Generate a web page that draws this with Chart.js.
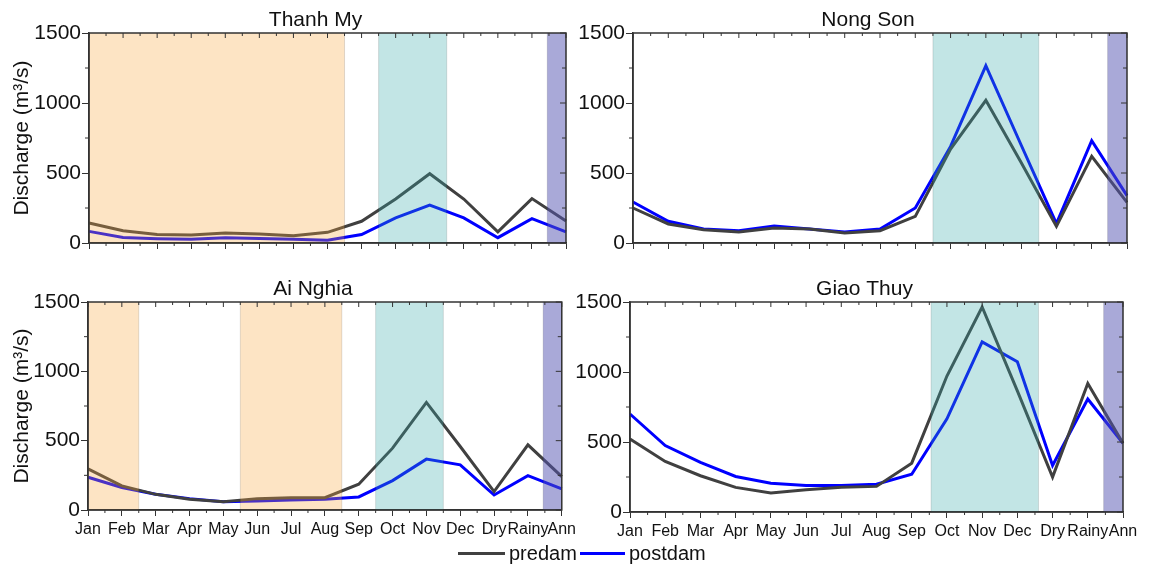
<!DOCTYPE html>
<html>
<head>
<meta charset="utf-8">
<script src="https://cdn.jsdelivr.net/npm/chart.js@4"></script>
<style>
  body { margin: 0; background: #fff; width: 1151px; height: 566px; position: relative; overflow: hidden;
         font-family: "Liberation Sans", Arial, sans-serif; }
  canvas { position: absolute; }
  .lg-line { position: absolute; height: 3px; top: 552px; }
  .lg-text { position: absolute; top: 541px; font-size: 20px; line-height: 24px; color: #111; }
</style>
</head>
<body>
<canvas id="thanhMy" width="580" height="272" style="left:0;top:0"></canvas>
<canvas id="nongSon" width="581" height="272" style="left:570px;top:0"></canvas>
<canvas id="aiNghia" width="580" height="270" style="left:0;top:272px"></canvas>
<canvas id="giaoThuy" width="581" height="270" style="left:570px;top:272px"></canvas>

<div class="lg-line" style="left:458px;width:47px;background:#404040"></div>
<div class="lg-text" style="left:509px">predam</div>
<div class="lg-line" style="left:580px;width:45px;background:#0000ff"></div>
<div class="lg-text" style="left:629px">postdam</div>

<script>
const labels = ["Jan", "Feb", "Mar", "Apr", "May", "Jun", "Jul", "Aug", "Sep", "Oct", "Nov", "Dec", "Dry", "Rainy", "Ann"];
const yTicks = [0, 500, 1000, 1500];
const yMinor = [250, 750, 1250];

// discharge (m3/s)
const thanhMyPre = [143, 88, 60, 57, 71, 64, 52, 76, 155, 314, 495, 314, 79, 317, 157];
const thanhMyPost = [83, 40, 31, 26, 38, 33, 26, 19, 60, 179, 271, 179, 38, 174, 79];
const nongSonPre = [250, 136, 95, 79, 107, 100, 71, 88, 190, 671, 1019, 575, 119, 619, 290];
const nongSonPost = [293, 155, 100, 88, 121, 100, 79, 100, 250, 690, 1267, 700, 138, 731, 338];
const aiNghiaPre = [297, 174, 113, 77, 60, 82, 89, 89, 186, 446, 776, 458, 133, 470, 241];
const aiNghiaPost = [236, 162, 113, 82, 60, 65, 72, 77, 94, 212, 367, 326, 108, 248, 152];
const giaoThuyPre = [522, 361, 259, 176, 135, 159, 176, 183, 349, 971, 1464, 865, 249, 918, 491];
const giaoThuyPost = [700, 475, 354, 254, 206, 190, 190, 199, 270, 665, 1215, 1073, 332, 807, 491];

// shaded periods, in category positions (from, to)
const thanhMyDry = [[0, 7.5]];
const thanhMyFlood = [[8.5, 10.5]];
const aiNghiaDry = [[0, 1.5], [4.5, 7.5]];
const aiNghiaFlood = [[8.5, 10.5]];
const nongSonFlood = [[8.5, 11.5]];
const giaoThuyFlood = [[8.55, 11.6]];
const annual = [[13.45, 14]];

const DRY = "rgba(248,165,58,0.3)";
const FLOOD = "rgba(52,168,168,0.3)";
const ANN = "rgba(83,83,177,0.5)";
const AXIS = "#333";
const FONT = "'Liberation Sans', Arial, sans-serif";

const framePlugin = {
  id: "frame",
  afterDatasetsDraw(chart, args, opts) {
    const { ctx, chartArea: a, scales } = chart;
    const x = scales.x, y = scales.y;
    ctx.save();
    opts.bands.forEach(b => {
      const x0 = x.getPixelForValue(b.from), x1 = x.getPixelForValue(b.to);
      ctx.fillStyle = b.color;
      ctx.fillRect(x0, a.top, x1 - x0, a.bottom - a.top);
      ctx.strokeStyle = "rgba(0,0,0,0.12)";
      ctx.lineWidth = 1;
      ctx.beginPath();
      ctx.moveTo(x0, a.top); ctx.lineTo(x0, a.bottom);
      ctx.moveTo(x1, a.top); ctx.lineTo(x1, a.bottom);
      ctx.stroke();
    });

    ctx.strokeStyle = AXIS;
    ctx.lineWidth = 1.5;
    ctx.strokeRect(a.left, a.top, a.right - a.left, a.bottom - a.top);

    ctx.lineWidth = 1;
    ctx.beginPath();
    yTicks.forEach(v => {
      const py = y.getPixelForValue(v);
      ctx.moveTo(a.right, py); ctx.lineTo(a.right - 6, py);
    });
    yMinor.forEach(v => {
      const py = y.getPixelForValue(v);
      ctx.moveTo(a.left, py); ctx.lineTo(a.left - 4, py);
      ctx.moveTo(a.right, py); ctx.lineTo(a.right - 4, py);
    });
    for (let i = 0; i < labels.length; i++) {
      const px = x.getPixelForValue(i);
      ctx.moveTo(px, a.top); ctx.lineTo(px, a.top + 5);
      if (i < labels.length - 1) {
        const hx = x.getPixelForValue(i + 0.5);
        ctx.moveTo(hx, a.top); ctx.lineTo(hx, a.top + 3);
        ctx.moveTo(hx, a.bottom); ctx.lineTo(hx, a.bottom + 3);
      }
    }
    ctx.stroke();

    ctx.fillStyle = "#111";
    ctx.font = "21px " + FONT;
    ctx.textAlign = "center";
    ctx.textBaseline = "middle";
    ctx.fillText(opts.title, (a.left + a.right) / 2 - 12, a.top - 13);
    ctx.restore();
  }
};

function makeBands(dry, flood) {
  const out = [];
  dry.forEach(b => out.push({ from: b[0], to: b[1], color: DRY }));
  flood.forEach(b => out.push({ from: b[0], to: b[1], color: FLOOD }));
  annual.forEach(b => out.push({ from: b[0], to: b[1], color: ANN }));
  return out;
}

function makeChart(id, title, pre, post, area, showX, showYTitle, bands) {
  const el = document.getElementById(id);
  return new Chart(el, {
    type: "line",
    data: {
      labels: labels,
      datasets: [
        { label: "predam", data: pre, borderColor: "#404040", borderWidth: 3 },
        { label: "postdam", data: post, borderColor: "#0000ff", borderWidth: 3 },
      ],
    },
    options: {
      responsive: false,
      animation: false,
      devicePixelRatio: 1,
      layout: { padding: { left: 0, top: area.top, right: el.width - area.right, bottom: 0 } },
      elements: {
        point: { radius: 0 },
        line: { tension: 0 },
      },
      scales: {
        x: {
          type: "category",
          offset: false,
          grid: { display: true, drawOnChartArea: false, offset: false, tickLength: 6, color: AXIS },
          border: { color: AXIS, width: 1.5 },
          ticks: {
            display: showX, autoSkip: false, maxRotation: 0, minRotation: 0, padding: 4,
            color: "#111", font: { family: FONT, size: 16 },
          },
          afterFit(s) { s.height = el.height - area.bottom; },
        },
        y: {
          min: 0,
          max: 1500,
          afterBuildTicks(s) { s.ticks = yTicks.map(v => ({ value: v })); },
          grid: { display: true, drawOnChartArea: false, tickLength: 7, color: AXIS },
          border: { color: AXIS, width: 1.5 },
          ticks: { padding: 1, color: "#111", font: { family: FONT, size: 21 }, callback: v => String(v) },
          title: {
            display: showYTitle, text: "Discharge (m³/s)", color: "#111",
            font: { family: FONT, size: 21 }, padding: { top: 10, bottom: 0 },
          },
          afterFit(s) { s.width = area.left; },
        },
      },
      plugins: {
        legend: { display: false },
        tooltip: { enabled: false },
        frame: { title: title, bands: bands },
      },
    },
    plugins: [framePlugin],
  });
}

makeChart("thanhMy", "Thanh My", thanhMyPre, thanhMyPost,
  { left: 89, right: 566, top: 33, bottom: 243 }, false, true, makeBands(thanhMyDry, thanhMyFlood));
makeChart("nongSon", "Nong Son", nongSonPre, nongSonPost,
  { left: 63, right: 557, top: 33, bottom: 243 }, false, false, makeBands([], nongSonFlood));
makeChart("aiNghia", "Ai Nghia", aiNghiaPre, aiNghiaPost,
  { left: 88, right: 563, top: 30, bottom: 238 }, true, true, makeBands(aiNghiaDry, aiNghiaFlood));
makeChart("giaoThuy", "Giao Thuy", giaoThuyPre, giaoThuyPost,
  { left: 60, right: 553, top: 30, bottom: 240 }, true, false, makeBands([], giaoThuyFlood));
</script>
</body>
</html>
